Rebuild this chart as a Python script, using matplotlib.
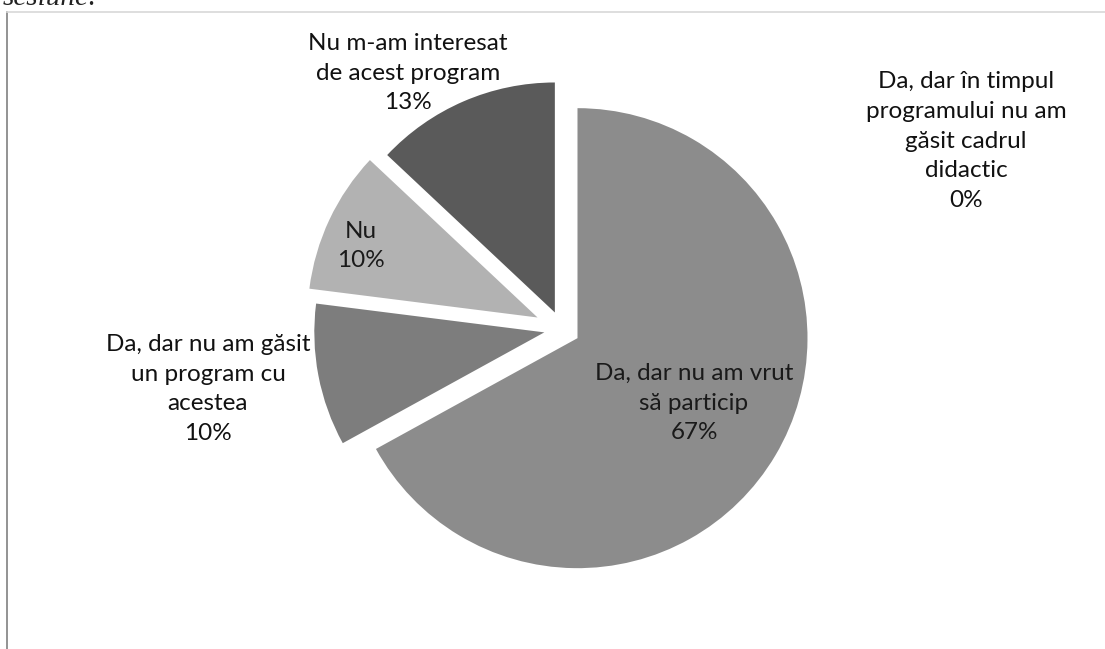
import matplotlib
matplotlib.use("Agg")
import matplotlib.pyplot as plt
from matplotlib.lines import Line2D

# ---- data ----
categories = [
    "Da, dar nu am vrut\nsă particip",
    "Da, dar nu am găsit\nun program cu\nacestea",
    "Nu",
    "Nu m-am interesat\nde acest program",
    "Da, dar în timpul\nprogramului nu am\ngăsit cadrul\ndidactic",
]
values = [67, 10, 10, 13, 0]
pct_labels = ["67%", "10%", "10%", "13%", "0%"]

# ---- style ----
colors = ["#8c8c8c", "#7d7d7d", "#b2b2b2", "#5a5a5a", "#d0d0d0"]
explode = [18, 18, 27, 18, 18]  # pixel offsets (data units are pixels)
W, H = 1105, 649
cx, cy, R = 562, H - 329, 230
# label centres in pixel coords (x, y from top)
label_pos = [(694, 403), (208, 389), (361, 246), (408, 73), (966, 141)]
inside = [True, False, True, False, False]

fig = plt.figure(figsize=(W / 100, H / 100), dpi=100)
ax = fig.add_axes([0, 0, 1, 1])

ax.pie(values, colors=colors, explode=explode, startangle=90,
       counterclock=False, center=(cx, cy), radius=R,
       wedgeprops=dict(linewidth=0))
ax.set_xlim(0, W)
ax.set_ylim(0, H)
ax.set_aspect("equal")
ax.axis("off")

for cat, pct, (x, y), ins in zip(categories, pct_labels, label_pos, inside):
    ax.text(x, H - y, f"{cat}\n{pct}", ha="center", va="center",
            fontsize=17.5, family="Lato", linespacing=1.52,
            color="#1a1a1a" if ins else "#111111")

# frame of the scanned page
fig.add_artist(Line2D([7 / W, 7 / W], [0, 1 - 12 / H], color="#8a8a8a",
                      linewidth=1.3, transform=fig.transFigure))
fig.add_artist(Line2D([7 / W, 1], [1 - 12 / H, 1 - 12 / H], color="#d8d8d8",
                      linewidth=1.2, transform=fig.transFigure))

fig.text(3 / W, 1 - 5 / H, "sesiune:", ha="left", va="baseline",
         fontsize=21, family="Liberation Serif", style="italic", color="#222222")

fig.savefig("out.png", dpi=100)
